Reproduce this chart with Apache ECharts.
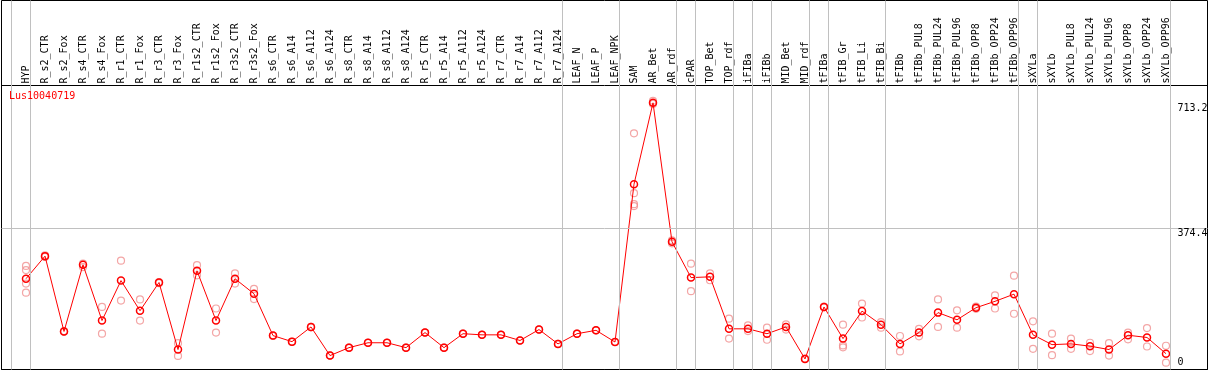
<!DOCTYPE html>
<html><head><meta charset="utf-8">
<script src="https://cdn.jsdelivr.net/npm/echarts@6/dist/echarts.min.js"></script>
<style>html,body{margin:0;padding:0;background:#fff}#c{width:1209px;height:370px}</style>
</head><body><div id="c"></div>
<script>
const geneName = 'Lus10040719';
const categories = ['HYP','R_s2_CTR','R_s2_Fox','R_s4_CTR','R_s4_Fox','R_r1_CTR','R_r1_Fox','R_r3_CTR','R_r3_Fox','R_r1s2_CTR','R_r1s2_Fox','R_r3s2_CTR','R_r3s2_Fox','R_s6_CTR','R_s6_A14','R_s6_A112','R_s6_A124','R_s8_CTR','R_s8_A14','R_s8_A112','R_s8_A124','R_r5_CTR','R_r5_A14','R_r5_A112','R_r5_A124','R_r7_CTR','R_r7_A14','R_r7_A112','R_r7_A124','LEAF_N','LEAF_P','LEAF_NPK','SAM','AR_Bet','AR_rdf','cPAR','TOP_Bet','TOP_rdf','iFIBa','iFIBb','MID_Bet','MID_rdf','tFIBa','tFIB_Gr','tFIB_Li','tFIB_Bi','tFIBb','tFIBb_PUL8','tFIBb_PUL24','tFIBb_PUL96','tFIBb_OPP8','tFIBb_OPP24','tFIBb_OPP96','sXYLa','sXYLb','sXYLb_PUL8','sXYLb_PUL24','sXYLb_PUL96','sXYLb_OPP8','sXYLb_OPP24','sXYLb_OPP96'];
const meanValues = [241,301,101,278,130,236,156,231,53,262,130,241,201,90,74,113,37,58,71,71,58,98,58,95,92,92,77,106,68,95,104,73,492,708,339,244,246,108,108,95,113,28,166,82,155,119,68,98,151,132,164,181,200,92,66,68,62,53,91,85,42];
const replicateValues = [
  [275,264,228,204],[303,299],[102,100],[281,272],[166,95],[289,183],[186,130],[232,229],[70,36],[277,250],
  [162,98],[255,228],[214,187],[90,89],[74,73],[113,112],[37,37],[58,58],[71,71],[71,71],
  [58,58],[98,98],[58,58],[95,95],[92,92],[92,92],[77,77],[106,106],[68,68],[95,95],
  [104,104],[73,73],[627,468,439,434],[713.2,705],[343,335],[281,208],[255,237],[135,82],[117,102],[111,79],
  [120,106],[29,28],[167,165],[119,64,59],[175,138],[126,111],[89,48],[108,88],[186,113],[157,111],
  [167,161],[197,162],[249,148],[128,55],[95,38],[82,55],[71,49],[70,37],[98,80],[110,61],[63,18]
];
// group separators are drawn after these category indices
const groupEnds = [-1,0,28,31,34,35,37,38,39,41,42,45,52,53,60];
const yTickValues = [713.2, 374.4, 0];
const yGridValues = [374.4];

const Y_MAX = 754;
const SEP_OFFSET = 0.2368;
const FONT = 'DejaVu Sans Mono';
const GRAY = '#c0c0c0';

const repData = [];
replicateValues.forEach((vals, i) => vals.forEach(v => repData.push([i, v])));

const chart = echarts.init(document.getElementById('c'), null, {renderer: 'canvas'});
const hiddenVal = (g, min, max) => ({type: 'value', gridIndex: g, min: min, max: max, show: false});

chart.setOption({
  animation: false,
  backgroundColor: '#fff',
  title: {text: geneName, left: 9, top: 91, padding: 0,
    textStyle: {color: '#ff0000', fontSize: 10, fontFamily: FONT, fontWeight: 'normal'}},
  grid: [
    {left: 1.5, right: 1.5, top: 0.5, bottom: 0.5, show: true, borderColor: '#000', borderWidth: 1, backgroundColor: 'transparent', z: 5},
    {left: 1.5, right: 1.5, top: 85.5, bottom: 0.5, show: true, borderColor: '#000', borderWidth: 1, backgroundColor: 'transparent', z: 5},
    {left: 16.5, right: 33.5, top: 85.5, bottom: 0.5},
    {left: 7, right: 24, top: 0.5, bottom: 0.5}
  ],
  xAxis: [
    hiddenVal(0, 0, 1),
    hiddenVal(1, 0, 1),
    {type: 'category', gridIndex: 2, data: categories, position: 'top', boundaryGap: true,
      axisLine: {show: false}, axisTick: {show: false}, splitLine: {show: false},
      axisLabel: {rotate: 90, interval: 0, margin: 2, fontSize: 10, fontFamily: FONT, color: '#000', hideOverlap: false}},
    hiddenVal(3, -1, 61)
  ],
  yAxis: [
    hiddenVal(0, 0, 1),
    hiddenVal(1, 0, Y_MAX),
    hiddenVal(2, 0, Y_MAX),
    hiddenVal(3, 0, 1)
  ],
  series: [
    {type: 'line', xAxisIndex: 1, yAxisIndex: 1, data: [], silent: true,
      markLine: {silent: true, symbol: ['none', 'none'], animation: false,
        lineStyle: {color: GRAY, width: 1, type: 'solid'}, label: {show: false},
        data: yGridValues.map(v => ({yAxis: v}))}},
    {type: 'line', xAxisIndex: 3, yAxisIndex: 3, data: [], silent: true,
      markLine: {silent: true, symbol: ['none', 'none'], animation: false,
        lineStyle: {color: GRAY, width: 1, type: 'solid'}, label: {show: false},
        data: groupEnds.map(g => ({xAxis: g + SEP_OFFSET}))}},
    {type: 'scatter', name: 'replicates', xAxisIndex: 2, yAxisIndex: 2, data: repData, z: 3,
      symbol: 'circle', symbolSize: 7,
      itemStyle: {color: 'rgba(0,0,0,0)', borderColor: '#f09090', borderWidth: 1.2}},
    {type: 'line', name: geneName, xAxisIndex: 2, yAxisIndex: 2, data: meanValues, z: 4,
      symbol: 'circle', symbolSize: 7, showAllSymbol: true,
      lineStyle: {color: '#ff0000', width: 1},
      itemStyle: {color: 'rgba(0,0,0,0)', borderColor: '#ff0000', borderWidth: 1.5}},
    {type: 'line', xAxisIndex: 2, yAxisIndex: 2, data: [], silent: true, z: 6,
      markLine: {silent: true, symbol: ['none', 'none'], animation: false,
        lineStyle: {color: 'rgba(0,0,0,0)', width: 1, type: 'solid'},
        label: {show: true, position: 'end', align: 'left', distance: 2, color: '#000', fontSize: 10, fontFamily: FONT,
          formatter: p => String(p.value)},
        data: yTickValues.map(v => ({yAxis: v,
          label: v === 0 ? {verticalAlign: 'bottom', padding: [0, 0, 2, 0]} : {verticalAlign: 'top', padding: [v > 500 ? 3 : 0, 0, 0, 0]}}))}}
  ]
});
</script></body></html>
